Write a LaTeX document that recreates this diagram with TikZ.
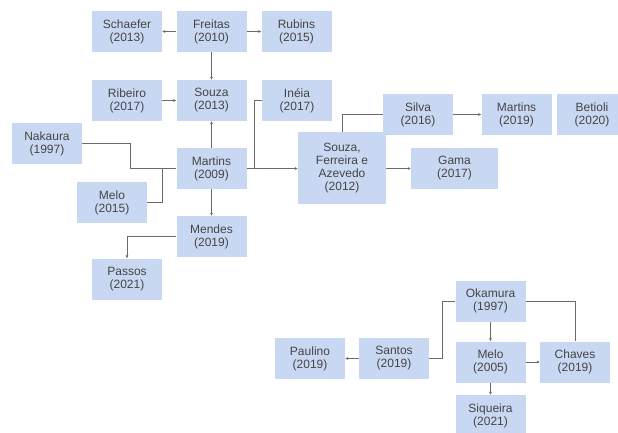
\documentclass[tikz,border=0pt]{standalone}
\usepackage{fontspec}
\setmainfont{Liberation Sans}
\usepackage{tikz}
\usetikzlibrary{arrows.meta}
\definecolor{boxblue}{HTML}{C9D8F2}
\definecolor{boxtext}{HTML}{454545}
\definecolor{linegray}{HTML}{6A6A6A}

\begin{document}
\begin{tikzpicture}[x=1pt, y=-1pt, box_style/.style={rectangle, fill=boxblue, text=boxtext, align=center, minimum width=70pt, minimum height=41pt, inner sep=0pt, font=\fontsize{12}{13}\selectfont},
			edge_style/.style={semithick, linegray},
			arrow_style/.style={semithick, linegray, -{Latex[length=3pt,width=3pt]}}]
			
			\useasboundingbox (0,0) rectangle (618,433);
			
			\foreach \n/\x/\y/\t in {schaefer/127/31.5/{Schaefer\\(2013)}, freitas/211.5/31.5/{Freitas\\(2010)}, rubins/296.5/31.5/{Rubins\\(2015)},
				ribeiro/127/100.5/{Ribeiro\\(2017)}, souza/211.5/100.5/{Souza\\(2013)}, ineia/297/100.5/{Inéia\\(2017)},
				nakaura/47/143.5/{Nakaura\\(1997)}, martins/211.5/168.5/{Martins\\(2009)}, melo/112/202.5/{Melo\\(2015)},
				mendes/211.5/236.5/{Mendes\\(2019)}, passos/127/279/{Passos\\(2021)}}{
				\node[box_style] (\n) at (\x,\y) {\t};}
			
			\foreach \n/\x/\y/\t in {silva/418/114.5/{Silva\\(2016)}, martins_b/516.5/114.5/{Martins\\(2019)}, betioli/592/114.5/{Betioli\\(2020)}}{
				\node[box_style] (\n) at (\x,\y) {\t};}
			\node[box_style, minimum width=88pt, minimum height=71pt] (sfa) at (342,168) {Souza,\\Ferreira e\\Azevedo\\(2012)};
			\node[box_style, minimum width=87pt] (gama) at (454.5,168.5) {Gama\\(2017)};
			
			\foreach \n/\x/\y/\t in {okamura/490.5/301/{Okamura\\(1997)}, paulino/310/358.5/{Paulino\\(2019)}, santos/394/358.5/{Santos\\(2019)},
				melo_b/490.5/362/{Melo\\(2005)}, chaves/575/362/{Chaves\\(2019)}, siqueira/490.5/415.5/{Siqueira\\(2021)}}{
				\node[box_style] (\n) at (\x,\y) {\t};}
			
			% straight arrows
			\foreach \x/\y in {freitas/schaefer,freitas/rubins,freitas/souza,ribeiro/souza,martins/souza,martins/mendes,silva/martins_b,
				santos/paulino,okamura/melo_b,melo_b/chaves,melo_b/siqueira}{
				\draw[arrow_style] (\x) -- (\y);}
			\draw[arrow_style] (martins.east) -- (martins.east -| sfa.west);
			\draw[arrow_style] (sfa.east |- gama.west) -- (gama.west);
			\draw[arrow_style] (mendes.west) -| (passos.north);
			
			% elbow lines
			\draw[edge_style] (nakaura.east) -- ++(48,0) |- (martins.west);
			\draw[edge_style] (melo.east) -- ++(15,0) |- (martins.west);
			\draw[edge_style] (martins.east) ++(8,0) |- (ineia.west);
			\draw[edge_style] (sfa.north) |- (silva.west);
			\draw[edge_style] (okamura.west) -- ++(-13,0) |- (santos.east);
			\draw[edge_style] (okamura.east) -| (chaves.north);
		\end{tikzpicture}
\end{document}
